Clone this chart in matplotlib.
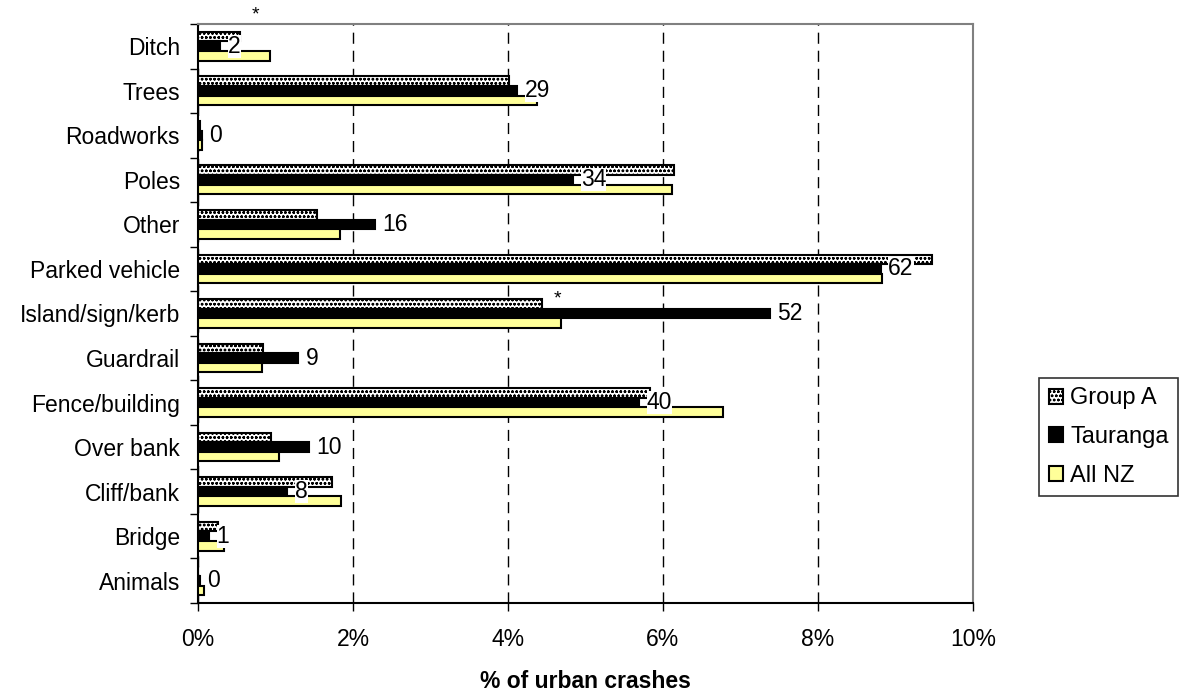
import matplotlib
matplotlib.use("Agg")
import matplotlib.pyplot as plt
import numpy as np

plt.rcParams['font.family'] = ['Liberation Sans', 'DejaVu Sans']
plt.rcParams['hatch.linewidth'] = 0.7

# categories bottom -> top
categories = ['Animals', 'Bridge', 'Cliff/bank', 'Over bank', 'Fence/building', 'Guardrail',
              'Island/sign/kerb', 'Parked vehicle', 'Other', 'Poles', 'Roadworks', 'Trees', 'Ditch']
group_a = [0.0, 0.26, 1.73, 0.94, 5.83, 0.84, 4.44, 9.47, 1.54, 6.15, 0.02, 4.01, 0.54]
tauranga = [0.02, 0.14, 1.15, 1.43, 5.69, 1.29, 7.38, 8.81, 2.28, 4.84, 0.05, 4.12, 0.29]
all_nz = [0.08, 0.34, 1.84, 1.04, 6.78, 0.83, 4.68, 8.83, 1.83, 6.12, 0.05, 4.38, 0.93]
counts = [0, 1, 8, 10, 40, 9, 52, 62, 16, 34, 0, 29, 2]
# asterisk marks (category -> height above the category centre)
stars = {'Ditch': 0.7, 'Island/sign/kerb': 0.33}

fig = plt.figure(figsize=(11.82, 6.95), dpi=100)
ax = fig.add_axes([0.1675, 0.1324, 0.6555, 0.8331])

y = np.arange(len(categories))
h = 0.215
ax.barh(y + h, group_a, h, color='white', edgecolor='black', linewidth=1.5,
        hatch='oooo', label='Group A', zorder=3)
ax.barh(y, tauranga, h, color='black', edgecolor='black', linewidth=1.5,
        label='Tauranga', zorder=3)
ax.barh(y - h, all_nz, h, color='#FFFF99', edgecolor='black', linewidth=1.5,
        label='All NZ', zorder=3)

for i in range(len(categories)):
    ax.text(tauranga[i] + 0.1, y[i], str(counts[i]), fontsize=16.5, va='center', ha='left',
            bbox=dict(facecolor='white', edgecolor='none', pad=0), zorder=4)
    if categories[i] in stars:
        ax.text(group_a[i] + 0.2, y[i] + stars[categories[i]], '*', fontsize=14,
                ha='center', va='center', zorder=5, clip_on=False)

ax.set_xlim(0, 10)
ax.set_ylim(-0.5, len(categories) - 0.5)
ax.set_xticks(np.arange(0, 11, 2))
ax.set_xticklabels([f'{v}%' for v in range(0, 11, 2)], fontsize=16.5)
ax.set_yticks(y)
ax.set_yticklabels(categories, fontsize=16.5)
ax.set_yticks(np.arange(-0.5, len(categories), 1), minor=True)
ax.tick_params(axis='y', which='major', length=0, pad=13)
ax.tick_params(axis='y', which='minor', length=6, width=1, direction='out')
ax.tick_params(axis='x', which='major', length=6, width=1, direction='out', pad=12)
ax.xaxis.grid(True, color='black', linestyle=(0, (8, 5)), linewidth=1, zorder=0)
ax.set_axisbelow(True)

for s in ['left', 'bottom']:
    ax.spines[s].set_color('black')
    ax.spines[s].set_linewidth(1.5)
for s in ['top', 'right']:
    ax.spines[s].set_color('#808080')
    ax.spines[s].set_linewidth(1.5)

ax.set_xlabel('% of urban crashes', fontsize=16.5, fontweight='bold')
ax.xaxis.set_label_coords(0.5, -0.115)

leg = fig.legend(loc='upper right', bbox_to_anchor=(1178 / 1182, 1 - 378 / 695), fontsize=17,
                 frameon=True, fancybox=False, edgecolor='black', handlelength=0.6,
                 handleheight=0.6, handletextpad=0.3, borderpad=0.4, labelspacing=0.7,
                 borderaxespad=0)
leg.get_frame().set_linewidth(1.2)

fig.savefig('out.png', dpi=100)
